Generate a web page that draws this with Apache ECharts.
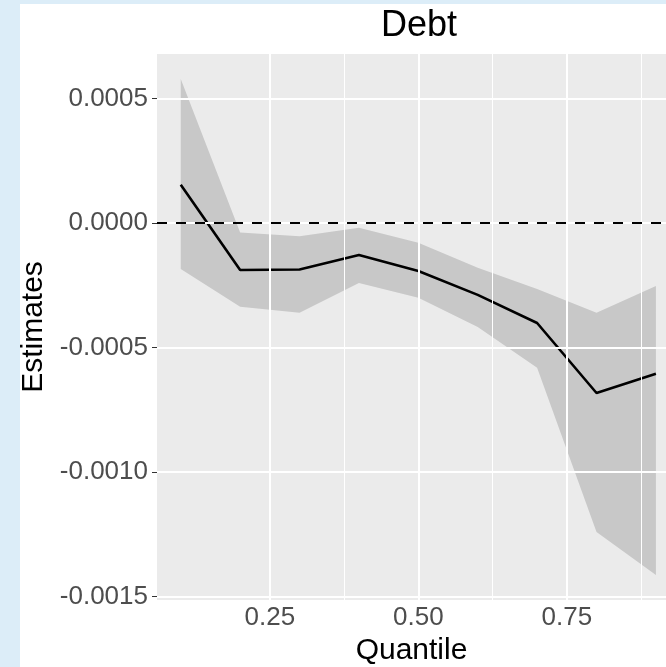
<!DOCTYPE html>
<html>
<head>
<meta charset="utf-8">
<script src="https://cdn.jsdelivr.net/npm/echarts@6/dist/echarts.min.js"></script>
<style>
  html, body { margin: 0; padding: 0; }
  .outer { width: 666px; height: 667px; background: #dcedf8; position: relative; overflow: hidden; }
  #debtChart { position: absolute; left: 20px; top: 4px; width: 646px; height: 663px; background: #ffffff; }
</style>
</head>
<body>
<div class="outer">
  <div id="debtChart"></div>
</div>
<script>
var quantiles = [0.1, 0.2, 0.3, 0.4, 0.5, 0.6, 0.7, 0.8, 0.9];
var estimates = [0.000153, -0.000189, -0.000187, -0.000129, -0.000193, -0.000289, -0.000402, -0.000683, -0.000606];
var upperCI = [0.000578, -0.000039, -0.000054, -0.000020, -0.000080, -0.000180, -0.000265, -0.000361, -0.000253];
var lowerCI = [-0.000185, -0.000337, -0.000361, -0.000241, -0.000301, -0.000418, -0.000582, -0.001241, -0.001414];

var xTicks = [0.25, 0.5, 0.75];
var xMinor = [0.375, 0.625, 0.875];
var yTicks = [-0.0015, -0.001, -0.0005, 0, 0.0005];

var myChart = echarts.init(document.getElementById('debtChart'));

var pair = function (ys) {
  return quantiles.map(function (q, i) { return [q, ys[i]]; });
};

var gridLines = []
  .concat(xTicks.map(function (v) { return { xAxis: v, lineStyle: { width: 2 } }; }))
  .concat(xMinor.map(function (v) { return { xAxis: v, lineStyle: { width: 1 } }; }))
  .concat(yTicks.map(function (v) { return { yAxis: v, lineStyle: { width: 2 } }; }));

myChart.setOption({
  animation: false,
  textStyle: { fontFamily: 'Liberation Sans' },
  title: {
    text: 'Debt',
    left: 399,
    top: 4,
    padding: 0,
    textAlign: 'center',
    textStyle: { fontSize: 36, fontWeight: 'normal', color: '#000000', fontFamily: 'Liberation Sans' }
  },
  grid: {
    left: 137,
    top: 50,
    right: 0,
    bottom: 67,
    outerBoundsMode: 'none',
    containLabel: false,
    show: true,
    backgroundColor: '#ebebeb',
    borderWidth: 0
  },
  xAxis: {
    type: 'value',
    min: 0.06,
    max: 0.917,
    name: 'Quantile',
    nameLocation: 'middle',
    nameGap: 26,
    nameTextStyle: { fontSize: 30, color: '#000000' },
    axisLine: { show: false },
    axisTick: {
      show: true,
      length: 5,
      customValues: xTicks,
      lineStyle: { color: '#333333', width: 1 }
    },
    axisLabel: {
      fontSize: 26,
      color: '#4d4d4d',
      margin: 5,
      customValues: xTicks,
      formatter: function (v) { return v.toFixed(2); }
    },
    splitLine: { show: false }
  },
  yAxis: {
    type: 'value',
    min: -0.001514,
    max: 0.000678,
    name: 'Estimates',
    nameLocation: 'middle',
    nameGap: 108,
    nameRotate: 90,
    nameTextStyle: { fontSize: 30, color: '#000000' },
    axisLine: { show: false },
    axisTick: {
      show: true,
      length: 5,
      customValues: yTicks,
      lineStyle: { color: '#333333', width: 1 }
    },
    axisLabel: {
      fontSize: 26,
      color: '#4d4d4d',
      margin: 9,
      customValues: yTicks,
      formatter: function (v) { return v.toFixed(4); }
    },
    splitLine: { show: false }
  },
  series: [
    {
      name: 'grid',
      type: 'line',
      data: pair(estimates),
      z: 1,
      silent: true,
      symbol: 'none',
      lineStyle: { width: 0, opacity: 0 },
      markLine: {
        silent: true,
        symbol: 'none',
        precision: 6,
        label: { show: false },
        lineStyle: { color: '#ffffff', type: 'solid' },
        data: gridLines
      }
    },
    {
      // confidence ribbon, one polygon through the axis scales
      name: 'band',
      type: 'custom',
      z: 2,
      silent: true,
      data: quantiles.map(function (q, i) { return [q, lowerCI[i], upperCI[i]]; }),
      encode: { x: 0, y: [1, 2] },
      renderItem: function (params, api) {
        if (params.dataIndex !== 0) return;
        var pts = [];
        for (var i = 0; i < quantiles.length; i++) {
          pts.push(api.coord([quantiles[i], upperCI[i]]));
        }
        for (var j = quantiles.length - 1; j >= 0; j--) {
          pts.push(api.coord([quantiles[j], lowerCI[j]]));
        }
        return {
          type: 'polygon',
          shape: { points: pts },
          style: { fill: 'rgba(0,0,0,0.15)', stroke: 'none' }
        };
      }
    },
    {
      name: 'Estimates',
      type: 'line',
      z: 3,
      symbol: 'none',
      lineStyle: { color: '#000000', width: 2.6 },
      data: pair(estimates),
      markLine: {
        silent: true,
        symbol: 'none',
        precision: 6,
        label: { show: false },
        lineStyle: { color: '#000000', type: [10, 9], width: 2.2 },
        data: [{ yAxis: 0 }]
      }
    }
  ]
});
</script>
</body>
</html>
